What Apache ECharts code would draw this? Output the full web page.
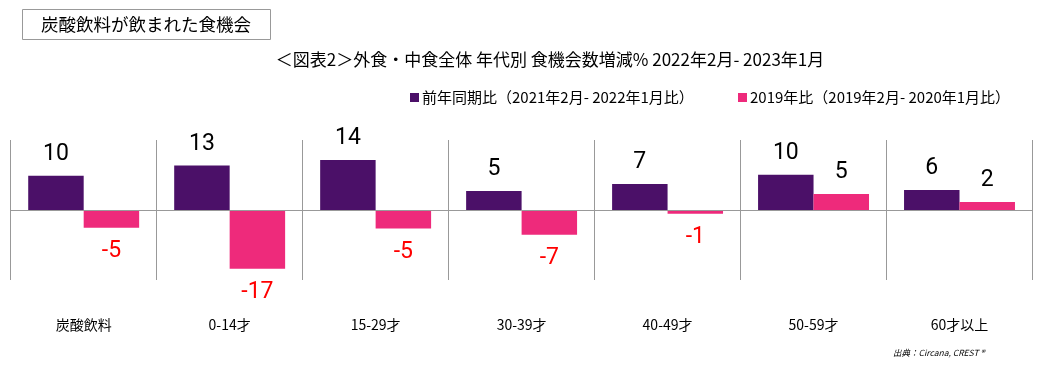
<!DOCTYPE html>
<html>
<head>
<meta charset="utf-8">
<script src="https://cdn.jsdelivr.net/npm/echarts@6/dist/echarts.min.js"></script>
<style>
html,body{margin:0;padding:0;background:#fff;}
#chart{width:1054px;height:374px;}
</style>
</head>
<body>
<div id="chart"></div>
<script>
const categories = ['炭酸飲料', '0-14才', '15-29才', '30-39才', '40-49才', '50-59才', '60才以上'];
const seriesNames = ['前年同期比（2021年2月- 2022年1月比）', '2019年比（2019年2月- 2020年1月比）'];
const yoyValues = [9.8, 12.7, 14.3, 5.4, 7.4, 10.1, 5.7];
const vs2019Values = [-5.1, -16.8, -5.3, -7.1, -1.1, 4.6, 2.3];
const boxTitle = '炭酸飲料が飲まれた食機会';
const chartTitle = '＜図表2＞外食・中食全体 年代別 食機会数増減% 2022年2月- 2023年1月';
const sourceText = '出典：Circana, CREST ®';

const PURPLE = '#4B1068';
const PINK = '#EE2A7B';
const FONT = '"Liberation Sans Narrow", "Noto Sans CJK JP", sans-serif';

const chart = echarts.init(document.getElementById('chart'));

function labelFor(color) {
  return {
    show: true,
    fontFamily: 'Roboto, sans-serif',
    fontSize: 23,
    distance: 10,
    formatter: p => String(Math.round(p.value)),
    color: color
  };
}

chart.setOption({
  animation: false,
  textStyle: { fontFamily: FONT },
  grid: { left: 10.7, right: 21.5, top: 140, bottom: 94 },
  legend: [
    {
      data: [seriesNames[0]], left: 405, top: 85,
      itemWidth: 9, itemHeight: 9, icon: 'rect',
      textStyle: { fontFamily: FONT, fontSize: 15, color: '#000', padding: [0,0,0,-2] }
    },
    {
      data: [seriesNames[1]], left: 733, top: 85,
      itemWidth: 9, itemHeight: 9, icon: 'rect',
      textStyle: { fontFamily: FONT, fontSize: 15, color: '#000', padding: [0,0,0,-2] }
    }
  ],
  xAxis: {
    type: 'category',
    data: categories,
    axisLine: { show: false, onZero: false },
    axisTick: { show: false },
    splitLine: { show: true, interval: 0, lineStyle: { color: '#999', width: 1 } },
    axisLabel: { interval: 0, margin: 38, fontSize: 14, color: '#000', fontFamily: FONT }
  },
  yAxis: {
    type: 'value', min: -20, max: 20, interval: 10,
    show: false, splitLine: { show: false }
  },
  series: [
    {
      name: seriesNames[0], type: 'bar', data: yoyValues,
      itemStyle: { color: PURPLE },
      barGap: '0%', barCategoryGap: '24%',
      label: Object.assign(labelFor('#000'), { position: 'top' }),
      markLine: {
        silent: true, symbol: 'none', label: { show: false },
        lineStyle: { color: '#999', width: 1, type: 'solid' },
        data: [{ yAxis: 0 }]
      }
    },
    {
      name: seriesNames[1], type: 'bar',
      data: vs2019Values.map(v => ({
        value: v,
        label: Object.assign(labelFor(v < 0 ? '#FF0000' : '#000'), { position: v < 0 ? 'bottom' : 'top', distance: v < 0 ? 12 : 10 })
      })),
      itemStyle: { color: PINK },
      barGap: '0%', barCategoryGap: '24%',
      label: labelFor('#000')
    }
  ],
  graphic: [
    {
      type: 'rect', shape: { x: 22.5, y: 9.5, width: 248, height: 30 },
      style: { fill: '#fff', stroke: '#999', lineWidth: 1 }
    },
    {
      type: 'text', x: 146, y: 24,
      style: { text: boxTitle, fontSize: 17.5, fontFamily: FONT, fill: '#000', align: 'center', verticalAlign: 'middle' }
    },
    {
      type: 'text', x: 550, y: 60,
      style: { text: chartTitle, fontSize: 17, fontFamily: FONT, fill: '#000', align: 'center', verticalAlign: 'middle' }
    },
    {
      type: 'text', x: 893, y: 353,
      style: { text: sourceText, fontSize: 8.5, fontStyle: 'italic', fontFamily: FONT, fill: '#000', align: 'left', verticalAlign: 'middle' }
    }
  ]
});
</script>
</body>
</html>
